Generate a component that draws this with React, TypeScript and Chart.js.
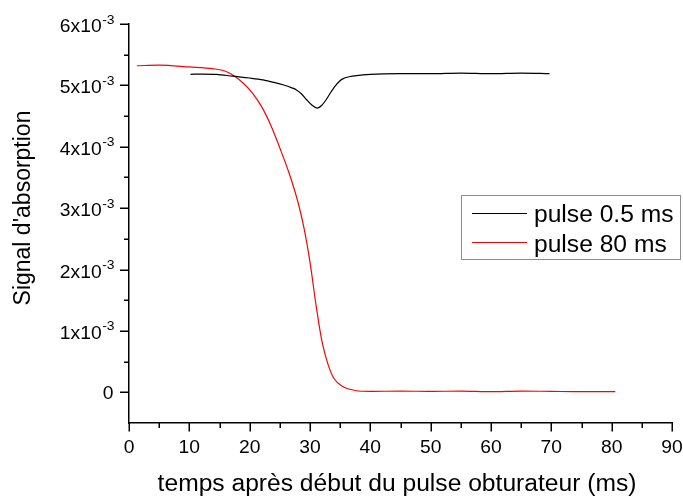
import React, { useEffect, useRef } from "react";
import { Chart, registerables } from "chart.js";

Chart.register(...registerables);

// Signal values are in units of 10^-3
const shortPulseTime = [10.2, 12, 14.5, 17.2, 20, 22.2, 24, 25.5, 27, 27.7, 28.6, 29.4, 30.3, 31.2, 32, 32.7, 33.4, 34.1, 34.8, 35.5, 36.5, 37.7, 40, 45, 50, 55, 60, 65, 69.7];
const shortPulseSignal = [5.18, 5.185, 5.18, 5.15, 5.12, 5.09, 5.05, 5.01, 4.96, 4.93, 4.86, 4.77, 4.68, 4.63, 4.68, 4.77, 4.88, 4.98, 5.06, 5.11, 5.14, 5.16, 5.18, 5.19, 5.19, 5.2, 5.19, 5.2, 5.19];

const longPulseTime = [1.3, 5, 10, 14, 16, 17.5, 19, 20.5, 22, 23.5, 25, 26.5, 28, 29, 30, 31, 32, 33, 34, 35.5, 37.5, 40, 45, 50, 55, 60, 65, 70, 75, 80.6];
const longPulseSignal = [5.32, 5.33, 5.3, 5.27, 5.23, 5.15, 5.03, 4.87, 4.65, 4.35, 3.98, 3.58, 3.1, 2.68, 2.12, 1.42, 0.82, 0.45, 0.22, 0.09, 0.03, 0.015, 0.02, 0.015, 0.02, 0.01, 0.02, 0.015, 0.01, 0.01];

const seriesLabels = ["pulse 0.5 ms", "pulse 80 ms"];
const seriesColors = ["#000000", "#ff0000"];

const xMajorTicks = [0, 10, 20, 30, 40, 50, 60, 70, 80, 90];
const xMinorTicks = [5, 15, 25, 35, 45, 55, 65, 75, 85];
const yMajorTicks = [0, 1, 2, 3, 4, 5, 6];
const yMinorTicks = [0.5, 1.5, 2.5, 3.5, 4.5, 5.5];
const yTickMantissas = ["0", "1x10", "2x10", "3x10", "4x10", "5x10", "6x10"];
const yTickExponent = "-3";

const xTitle = "temps après début du pulse obturateur (ms)";
const yTitle = "Signal d'absorption";

const FONT = "'Liberation Sans', Arial, Helvetica, sans-serif";
const SX = 1.07;

function stretchText(ctx: CanvasRenderingContext2D, text: string, x: number, y: number, align: CanvasTextAlign, size: number) {
  ctx.save();
  ctx.font = `${size}px ${FONT}`;
  ctx.textAlign = align;
  ctx.textBaseline = "alphabetic";
  ctx.translate(x, y);
  ctx.scale(SX, 1);
  ctx.fillText(text, 0, 0);
  ctx.restore();
}

const axisDecor = {
  id: "axisDecor",
  afterDraw(chart: any) {
    const ctx: CanvasRenderingContext2D = chart.ctx;
    const xs = chart.scales.x;
    const ys = chart.scales.y;
    const { left, bottom } = chart.chartArea;
    ctx.save();
    ctx.strokeStyle = "#000";
    ctx.fillStyle = "#000";
    ctx.lineWidth = 1.5;
    ctx.beginPath();
    xMajorTicks.forEach((v) => {
      const p = Math.round(xs.getPixelForValue(v)) + 0.25;
      ctx.moveTo(p, bottom);
      ctx.lineTo(p, bottom + 8.5);
    });
    xMinorTicks.forEach((v) => {
      const p = Math.round(xs.getPixelForValue(v)) + 0.25;
      ctx.moveTo(p, bottom);
      ctx.lineTo(p, bottom + 5);
    });
    yMajorTicks.forEach((v) => {
      const p = Math.round(ys.getPixelForValue(v)) + 0.25;
      ctx.moveTo(left, p);
      ctx.lineTo(left - 9, p);
    });
    yMinorTicks.forEach((v) => {
      const p = Math.round(ys.getPixelForValue(v)) + 0.25;
      ctx.moveTo(left, p);
      ctx.lineTo(left - 5, p);
    });
    ctx.stroke();

    // x tick labels
    xMajorTicks.forEach((v) => {
      stretchText(ctx, String(v), xs.getPixelForValue(v), bottom + 30, "center", 18);
    });
    // y tick labels with superscript exponent
    const rightEdge = left - 14.5;
    yMajorTicks.forEach((v, i) => {
      const p = ys.getPixelForValue(v);
      const m = yTickMantissas[i];
      if (v === 0) {
        stretchText(ctx, m, rightEdge - 1, p + 6.5, "right", 18);
      } else {
        ctx.font = `13px ${FONT}`;
        const ew = ctx.measureText(yTickExponent).width * SX;
        stretchText(ctx, yTickExponent, rightEdge, p - 0.5, "right", 13);
        stretchText(ctx, m, rightEdge - ew - 0.5, p + 8, "right", 18);
      }
    });

    // axis titles
    stretchText(ctx, xTitle, 397, 491, "center", 23);
    ctx.save();
    ctx.font = `23px ${FONT}`;
    ctx.textAlign = "center";
    ctx.textBaseline = "alphabetic";
    ctx.translate(30, 208);
    ctx.rotate(-Math.PI / 2);
    ctx.fillText(yTitle, 0, 0);
    ctx.restore();

    // legend
    const bx = 461.5, by = 195.5, bw = 219, bh = 64;
    ctx.fillStyle = "#fff";
    ctx.fillRect(bx, by, bw, bh);
    ctx.strokeStyle = "#8c8c8c";
    ctx.lineWidth = 1;
    ctx.strokeRect(bx, by, bw, bh);
    chart.data.datasets.forEach((ds: any, i: number) => {
      const ly = 213.5 + i * 29;
      ctx.strokeStyle = ds.borderColor;
      ctx.lineWidth = 1.2;
      ctx.beginPath();
      ctx.moveTo(472, ly);
      ctx.lineTo(527, ly);
      ctx.stroke();
      ctx.fillStyle = "#000";
      stretchText(ctx, ds.label, 534, 222 + i * 29.5, "left", 23);
    });
    ctx.restore();
  },
};

export default function App() {
  const ref = useRef<HTMLCanvasElement | null>(null);
  useEffect(() => {
    if (!ref.current) return;
    const chart = new Chart(ref.current, {
      type: "line",
      data: {
        datasets: [
          {
            label: seriesLabels[0],
            data: shortPulseTime.map((t, i) => ({ x: t, y: shortPulseSignal[i] })),
            borderColor: seriesColors[0],
            borderWidth: 1.2,
            pointRadius: 0,
            cubicInterpolationMode: "monotone",
            fill: false,
          },
          {
            label: seriesLabels[1],
            data: longPulseTime.map((t, i) => ({ x: t, y: longPulseSignal[i] })),
            borderColor: seriesColors[1],
            borderWidth: 1.2,
            pointRadius: 0,
            cubicInterpolationMode: "monotone",
            fill: false,
          },
        ],
      },
      options: {
        animation: false,
        responsive: false,
        maintainAspectRatio: false,
        layout: { padding: { top: 24, right: 11, left: 0, bottom: 0 } },
        plugins: { legend: { display: false }, tooltip: { enabled: false }, title: { display: false } },
        scales: {
          x: {
            type: "linear",
            min: 0,
            max: 90,
            ticks: { display: false, stepSize: 5 },
            grid: { display: false },
            border: { display: true, color: "#000", width: 1.5 },
            afterFit: (s: any) => { s.height = 75; },
          },
          y: {
            type: "linear",
            min: -0.5,
            max: 6,
            ticks: { display: false, stepSize: 0.5 },
            grid: { display: false },
            border: { display: true, color: "#000", width: 1.5 },
            afterFit: (s: any) => { s.width = 129; },
          },
        },
      },
      plugins: [axisDecor],
    });
    return () => chart.destroy();
  }, []);
  return (
    <div style={{ position: "absolute", left: 0, top: 0, width: 683, height: 498, background: "#fff" }}>
      <canvas ref={ref} width={683} height={498} />
    </div>
  );
}
